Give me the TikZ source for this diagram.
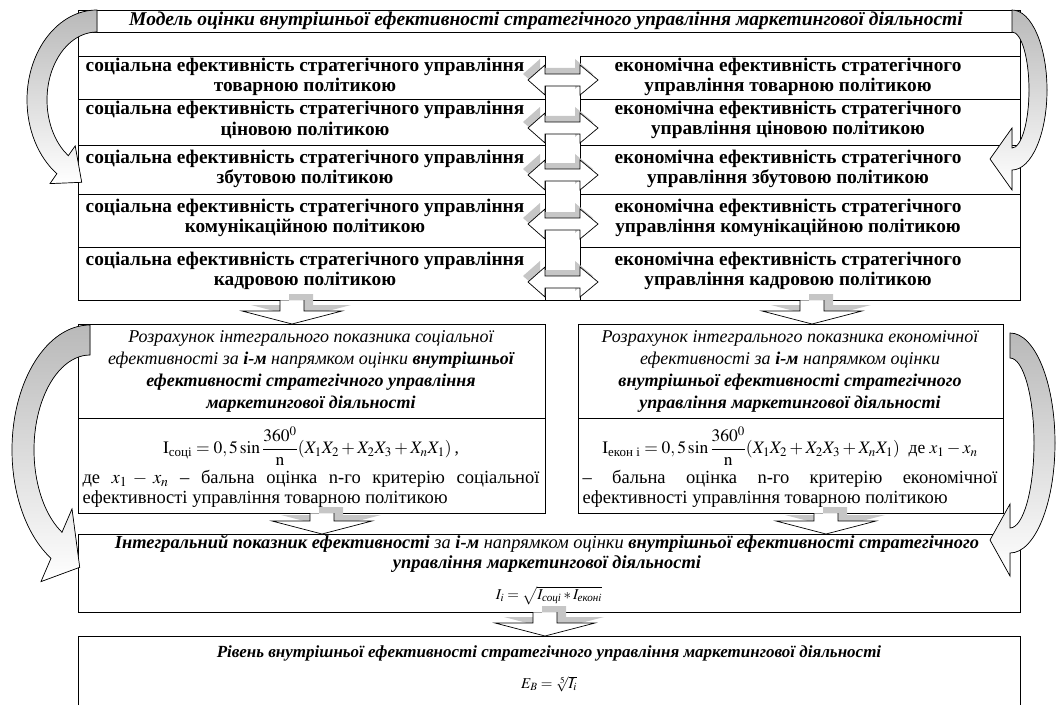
\documentclass[tikz,border=0pt]{standalone}
\usepackage{amsmath}
\usepackage{mathptmx}
\usepackage{fontspec}
\setmainfont{Liberation Serif}
\usetikzlibrary{calc}

\begin{document}
\begin{tikzpicture}[x=1pt, y=-1pt, line width=0.7pt,
  rowtext/.style={font=\fontsize{19.3}{20.5}\selectfont\bfseries, align=center, inner sep=0pt},
  headtext/.style={font=\fontsize{19.5}{21}\selectfont\bfseries\itshape, align=center, inner sep=0pt},
  calctext/.style={font=\fontsize{18}{22}\selectfont\itshape, align=center, inner sep=0pt},
  notetext/.style={font=\fontsize{18.5}{20}\selectfont, align=justify, inner sep=0pt},
  formtext/.style={font=\fontsize{17.5}{20}\selectfont, inner sep=0pt},
  formsmall/.style={font=\fontsize{15}{16}\selectfont, inner sep=0pt},
  blockarrow/.style={fill=white, draw=black, line width=0.7pt},
  blockshadow/.style={fill=gray!45, draw=none},
  bentarrow/.style={draw=black, line width=0.7pt, top color=gray!55, bottom color=white}]
  \useasboundingbox (0,0) rectangle (1060,706);

  % upper block
  \draw (78,10) rectangle (1020,300);
  \draw (78,32) -- (1020,32);
  \foreach \y in {56,99,145,194,247} {
    \draw (78,\y) -- (545,\y);
    \draw (580,\y) -- (1020,\y);
  }
  \draw (545,56) -- (545,300);
  \draw (580,56) -- (580,300);

  \node[headtext] (title) at (546,21) {Модель оцінки внутрішньої ефективності стратегічного управління маркетингової діяльності};
  \foreach \n/\y/\pol in {1/77/товарною, 2/120/ціновою, 3/169/збутовою, 4/218/комунікаційною, 5/271/кадровою} {
    \node[rowtext] (soc\n) at (305,\y) {соціальна ефективність стратегічного управління\\ \pol{} політикою};
    \node[rowtext] (eco\n) at (788,\y) {економічна ефективність стратегічного\\ управління \pol{} політикою};
  }

  % double arrows
  \foreach \y in {80,128,175,224,282} {
    \fill[blockshadow, shift={(-5,-6)}] (528,\y) -- (545,\y-15) -- (545,\y-6) -- (580,\y-6) -- (580,\y-15) -- (598,\y) -- (580,\y+15) -- (580,\y+6) -- (545,\y+6) -- (545,\y+15) -- cycle;
    \filldraw[blockarrow] (528,\y) -- (545,\y-15) -- (545,\y-6) -- (580,\y-6) -- (580,\y-15) -- (598,\y) -- (580,\y+15) -- (580,\y+6) -- (545,\y+6) -- (545,\y+15) -- cycle;
  }

  % calculation boxes
  \draw (78,324) rectangle (545,513);
  \draw (78,418) -- (545,418);
  \draw (578,324) rectangle (1003,513);
  \draw (578,418) -- (1003,418);

  \node[calctext] (calcA) at (311,371) {Розрахунок інтегрального показника соціальної\\ ефективності за \textbf{і-м} напрямком оцінки \textbf{внутрішньої}\\ \textbf{ефективності стратегічного управління}\\ \textbf{маркетингової діяльності}};
  \node[formtext] (formA) at (311,446) {$\mathrm{I}_{\text{соці}} = 0,5\sin\dfrac{360^0}{\mathrm{n}}(X_1X_2+X_2X_3+X_nX_1)$\,,};
  \node[notetext, text width=457pt] (noteA) at (311,489) {де $x_1 - x_n$ -- бальна оцінка n-го критерію соціальної\linebreak ефективності управління товарною політикою};

  \node[calctext] (calcB) at (790,371) {Розрахунок інтегрального показника економічної\\ ефективності за \textbf{і-м} напрямком оцінки\\ \textbf{внутрішньої ефективності стратегічного}\\ \textbf{управління маркетингової діяльності}};
  \node[formtext] (formB) at (790,446) {$\mathrm{I}_{\text{екон і}} = 0,5\sin\dfrac{360^0}{\mathrm{n}}(X_1X_2+X_2X_3+X_nX_1)$\ \ де $x_1 - x_n$};
  \node[notetext, text width=415pt] (noteB) at (790,489) {-- бальна оцінка n-го критерію економічної\linebreak ефективності управління товарною політикою};

  % result boxes
  \draw (78,534) rectangle (1020,612);
  \node[headtext, font=\fontsize{18.4}{20.5}\selectfont\bfseries\itshape] (integral) at (547,554) {Інтегральний показник ефективності {\mdseries за} і-м {\mdseries напрямком оцінки} внутрішньої ефективності стратегічного\\ управління маркетингової діяльності};
  \node[formsmall] (formI) at (549,596) {$I_i = \sqrt{I_{\text{\itshape соці}} * I_{\text{\itshape екон}i}}$};

  \draw (78,705) -- (78,636) -- (1020,636) -- (1020,705);
  \node[headtext, font=\fontsize{17}{20}\selectfont\bfseries\itshape] (level) at (549,653) {Рівень внутрішньої ефективності стратегічного управління маркетингової діяльності};
  \node[formsmall] (formE) at (549,684) {$E_B = \sqrt[5]{I_i}$};

  % down arrows
  \foreach \x/\t/\b in {292/300/324, 812/300/324, 322/513/534, 826/513/534, 545/612/636} {
    \fill[blockshadow, shift={(9,-6)}] (\x-12,\t) -- (\x-12,\b-13) -- (\x-50,\b-13) -- (\x,\b) -- (\x+50,\b-13) -- (\x+12,\b-13) -- (\x+12,\t) -- cycle;
    \fill[white] (\x-12,\t+0.4) -- (\x-12,\b-13) -- (\x-50,\b-13) -- (\x,\b) -- (\x+50,\b-13) -- (\x+12,\b-13) -- (\x+12,\t+0.4) -- cycle;
    \draw (\x-12,\t) -- (\x-12,\b-13) -- (\x-50,\b-13) -- (\x,\b) -- (\x+50,\b-13) -- (\x+12,\b-13) -- (\x+12,\t);
  }

  % curved arrows
  \filldraw[bentarrow] (97,10) arc[start angle=270, end angle=125, x radius=70, y radius=90] -- (50,183.6) -- (81.7,182.3) -- (75.2,145.9) -- ($(97,100)+(125:50 and 68)$) arc[start angle=125, end angle=270, x radius=50, y radius=68] -- cycle;
  \filldraw[bentarrow] (1012,10) arc[start angle=-90, end angle=90, x radius=35, y radius=80] -- (1012,190) -- (990,159) -- (1012,128) -- (1012,148) arc[start angle=90, end angle=-90, x radius=17, y radius=58] -- cycle;
  \filldraw[bentarrow] (90,325) arc[start angle=270, end angle=120, x radius=78, y radius=125] -- (41,581.6) -- (79.7,567.3) -- (72,508.9) -- ($(90,450)+(120:56 and 95)$) arc[start angle=120, end angle=270, x radius=56, y radius=95] -- cycle;
  \filldraw[bentarrow] (1010,333) arc[start angle=-90, end angle=90, x radius=45, y radius=110] -- (1010,576) -- (990,540) -- (1010,504) -- (1010,528) arc[start angle=90, end angle=-90, x radius=24, y radius=85] -- cycle;
\end{tikzpicture}
\end{document}
